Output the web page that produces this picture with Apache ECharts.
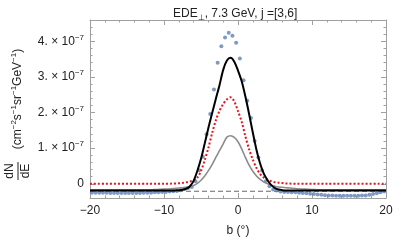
<!DOCTYPE html>
<html><head><meta charset="utf-8">
<script src="https://cdn.jsdelivr.net/npm/echarts@6/dist/echarts.min.js"></script>
<style>html,body{margin:0;padding:0;background:#fff}#c{width:407px;height:242px}</style>
</head><body><div id="c"></div>
<script>
// all y values in units of 1e-7 cm^-2 s^-1 sr^-1 GeV^-1
const xTicks = [-20, -10, 0, 10, 20];
const yTicks = [0, 1, 2, 3, 4];
const yMinorTicks = [-0.4, -0.2, 0, 0.2, 0.4, 0.6, 0.8, 1, 1.2, 1.4, 1.6, 1.8, 2, 2.2, 2.4, 2.6, 2.8, 3, 3.2, 3.4, 3.6, 3.8, 4, 4.2, 4.4, 4.6];

const dataB = [-19.75, -19.25, -18.75, -18.25, -17.75, -17.25, -16.75, -16.25, -15.75, -15.25,
  -14.75, -14.25, -13.75, -13.25, -12.75, -12.25, -11.75, -11.25, -10.75, -10.25,
  -9.75, -9.25, -8.75, -8.25, -7.75, -7.25, -6.75, -6.25, -5.75, -5.25,
  -4.75, -4.25, -3.75, -3.25, -2.75, -2.25, -1.75, -1.25, -0.75, -0.25,
  0.25, 0.75, 1.25, 1.75, 2.25, 2.75, 3.25, 3.75, 4.25, 4.75,
  5.25, 5.75, 6.25, 6.75, 7.25, 7.75, 8.25, 8.75, 9.25, 9.75,
  10.25, 10.75, 11.25, 11.75, 12.25, 12.75, 13.25, 13.75, 14.25, 14.75,
  15.25, 15.75, 16.25, 16.75, 17.25, 17.75, 18.25, 18.75, 19.25, 19.75];
const dataVals = [-0.25, -0.25, -0.25, -0.25, -0.25, -0.26, -0.26, -0.26, -0.26, -0.26,
  -0.26, -0.26, -0.26, -0.26, -0.25, -0.25, -0.25, -0.24, -0.24, -0.23,
  -0.23, -0.22, -0.21, -0.20, -0.18, -0.15, -0.12, -0.09, 0.07, 0.38,
  0.76, 1.39, 1.96, 2.65, 3.40, 3.86, 4.11, 4.24, 4.16, 3.96,
  3.52, 2.91, 2.33, 1.85, 1.20, 0.74, 0.37, 0.07, -0.07, -0.16,
  -0.19, -0.22, -0.23, -0.23, -0.24, -0.24, -0.25, -0.26, -0.27, -0.28,
  -0.29, -0.30, -0.31, -0.32, -0.33, -0.33, -0.34, -0.34, -0.34, -0.34,
  -0.34, -0.34, -0.34, -0.33, -0.33, -0.31, -0.29, -0.27, -0.24, -0.22];

const lineB = [-20, -12, -11, -10, -9, -8, -7.5, -7, -6.5, -6, -5.5, -5, -4.5, -4, -3.5, -3, -2.5, -2, -1.5, -1, -0.5,
  0, 0.5, 1, 1.5, 2, 2.5, 3, 3.5, 4, 4.5, 5, 5.5, 6, 6.5, 7, 8, 9, 10, 11, 12, 20];
const totalModel = [-0.19, -0.19, -0.19, -0.19, -0.19, -0.18, -0.17, -0.14, -0.07, 0.08, 0.36, 0.70, 1.13, 1.57, 1.98, 2.38, 2.77, 3.20, 3.46, 3.54, 3.43,
  3.18, 2.88, 2.45, 1.96, 1.44, 0.95, 0.56, 0.28, 0.10, -0.04, -0.12, -0.16, -0.18, -0.19, -0.19, -0.19, -0.19, -0.19, -0.19, -0.19, -0.19];
const redModel = [0, 0, 0, 0, 0.005, 0.015, 0.025, 0.04, 0.065, 0.10, 0.17, 0.36, 0.66, 1.01, 1.42, 1.78, 2.05, 2.24, 2.37, 2.43, 2.31,
  2.04, 1.74, 1.33, 0.97, 0.68, 0.44, 0.27, 0.17, 0.11, 0.07, 0.04, 0.03, 0.02, 0.01, 0.005, 0, 0, 0, 0, 0, 0];
const grayModel = [-0.17, -0.17, -0.16, -0.15, -0.14, -0.12, -0.11, -0.10, -0.08, -0.05, 0.01, 0.10, 0.22, 0.37, 0.54, 0.74, 0.93, 1.12, 1.31, 1.35, 1.30,
  1.18, 0.98, 0.74, 0.52, 0.35, 0.22, 0.12, 0.05, 0.00, -0.04, -0.07, -0.09, -0.10, -0.11, -0.12, -0.14, -0.15, -0.16, -0.17, -0.17, -0.17];
const baselineB = [-20, 20];
const baselineVals = [-0.21, -0.21];

const frameColor = '#a0a0a0';
const labelColor = '#222';
const font = 'Liberation Sans';

function pairs(xs, ys) { return xs.map((x, i) => [x, ys[i]]); }

function yAxisDef(pos, showLabel, major) {
  const a = {
    type: 'value', min: -0.4, max: 4.6, interval: 0.2, position: pos, offset: 0,
    axisLine: { show: !major, onZero: false, lineStyle: { color: frameColor, width: 1 } },
    splitLine: { show: false },
    axisTick: major
      ? { show: true, inside: true, length: 5, customValues: yTicks, lineStyle: { color: frameColor } }
      : { show: true, inside: true, length: 2.5, customValues: yMinorTicks, lineStyle: { color: frameColor } },
    axisLabel: { show: false }
  };
  if (showLabel) {
    a.axisLabel = {
      show: true, margin: 6, customValues: yTicks, fontFamily: font, color: labelColor,
      formatter: v => Math.abs(v) < 1e-9 ? '{m|0}' : '{m|' + Math.round(v) + '. \u00d7 10}{s|\u22127}',
      rich: {
        m: { fontSize: 12, fontFamily: font, color: labelColor, lineHeight: 16 },
        s: { fontSize: 8, fontFamily: font, color: labelColor, lineHeight: 9, verticalAlign: 'top' }
      }
    };
  }
  return a;
}

function xAxisDef(pos, showLabel) {
  const a = {
    type: 'value', min: -20, max: 20, interval: 10, position: pos,
    axisLine: { show: true, onZero: false, lineStyle: { color: frameColor, width: 1 } },
    splitLine: { show: false },
    axisTick: { show: true, inside: true, length: 5, customValues: xTicks, lineStyle: { color: frameColor } },
    minorTick: { show: true, splitNumber: 5, length: 2.5, lineStyle: { color: frameColor } },
    axisLabel: { show: false }
  };
  if (showLabel) {
    a.axisLabel = {
      show: true, margin: 7, fontSize: 12, fontFamily: font, color: labelColor, customValues: xTicks,
      formatter: v => v < 0 ? '\u2212' + Math.abs(v) : String(v)
    };
    a.name = 'b (\u00b0)';
    a.nameLocation = 'middle';
    a.nameGap = 27;
    a.nameTextStyle = { fontSize: 12, fontFamily: font, color: labelColor };
  }
  return a;
}

const chart = echarts.init(document.getElementById('c'), null, { renderer: 'canvas' });
chart.setOption({
  animation: false,
  backgroundColor: '#fff',
  title: {
    text: '{a|EDE}{b|\u22a5}{a|, 7.3 GeV, j =[3,6]}',
    left: 168, top: 1,
    textStyle: {
      fontWeight: 'normal',
      rich: {
        a: { fontSize: 12, fontFamily: font, fontWeight: 'normal', color: labelColor, lineHeight: 16 },
        b: { fontSize: 8, fontFamily: font, fontWeight: 'normal', color: labelColor, lineHeight: 10, verticalAlign: 'bottom' }
      }
    }
  },
  grid: { left: 90, right: 21, top: 20, bottom: 40 },
  xAxis: [xAxisDef('bottom', true), xAxisDef('top', false)],
  yAxis: [yAxisDef('left', true, false), yAxisDef('left', false, true), yAxisDef('right', false, false), yAxisDef('right', false, true)],
  graphic: [
    { type: 'text', x: 18, y: 99, rotation: Math.PI / 2,
      style: { text: '{m|(cm}{s|\u22122}{m|s}{s|\u22121}{m|sr}{s|\u22121}{m|GeV}{s|\u22121}{m|)}',
        align: 'center', verticalAlign: 'middle',
        rich: {
          m: { fontSize: 12, fontFamily: font, fill: labelColor, lineHeight: 16 },
          s: { fontSize: 8, fontFamily: font, fill: labelColor, lineHeight: 9, verticalAlign: 'top' }
        } } },
    { type: 'text', x: 10, y: 171, rotation: Math.PI / 2,
      style: { text: 'dN', align: 'center', verticalAlign: 'middle', fontSize: 12, fontFamily: font, fill: labelColor } },
    { type: 'text', x: 26, y: 171, rotation: Math.PI / 2,
      style: { text: 'dE', align: 'center', verticalAlign: 'middle', fontSize: 12, fontFamily: font, fill: labelColor } },
    { type: 'line', shape: { x1: 18, y1: 162, x2: 18, y2: 180 }, style: { stroke: labelColor, lineWidth: 1 } }
  ],
  series: [
    { type: 'line', name: 'baseline', data: pairs(baselineB, baselineVals), showSymbol: false, silent: true, z: 1,
      lineStyle: { color: '#666', width: 1, type: [5, 3] } },
    { type: 'scatter', name: 'data', data: pairs(dataB, dataVals), symbol: 'circle', symbolSize: 4, z: 2,
      itemStyle: { color: '#5e81b5' } },
    { type: 'line', name: 'gray', data: pairs(lineB, grayModel), showSymbol: false, smooth: 0.3, z: 3,
      lineStyle: { color: '#8c8c8c', width: 1.6 } },
    { type: 'line', name: 'red', data: pairs(lineB, redModel), showSymbol: false, smooth: 0.3, z: 4,
      lineStyle: { color: '#e8141c', width: 2, type: [2, 2] } },
    { type: 'line', name: 'total', data: pairs(lineB, totalModel), showSymbol: false, smooth: 0.3, z: 5,
      lineStyle: { color: '#000', width: 2 } }
  ]
});
</script>
</body></html>
